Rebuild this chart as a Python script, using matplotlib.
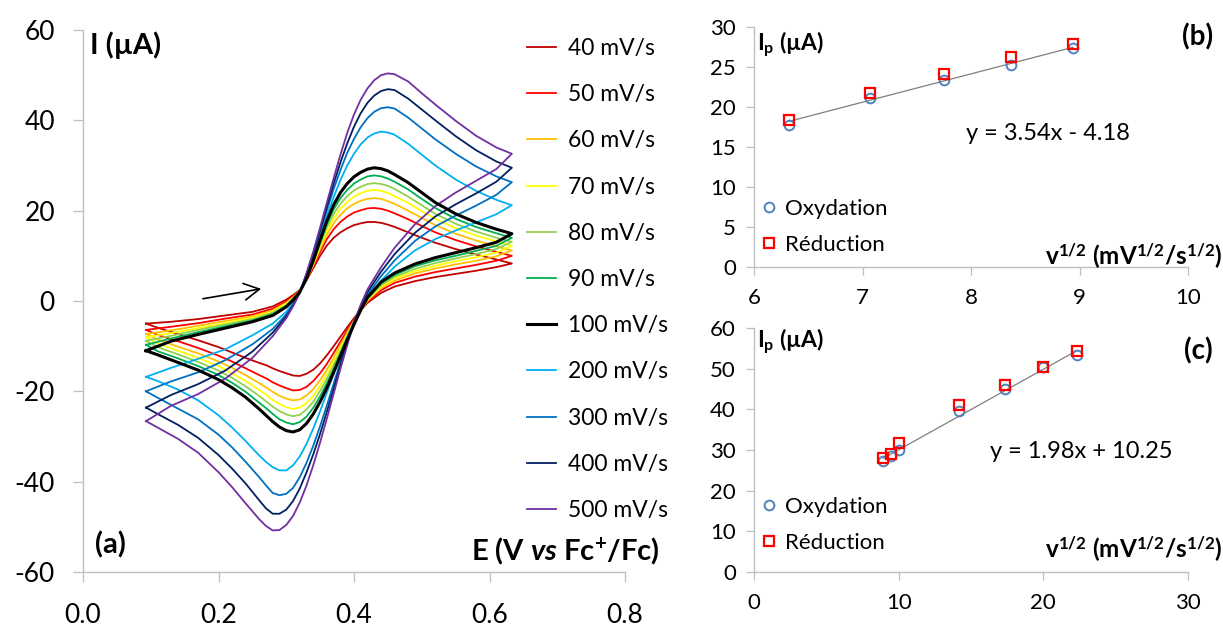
import matplotlib
matplotlib.use("Agg")
import matplotlib.pyplot as plt

plt.rcParams['font.family'] = ['Lato', 'DejaVu Sans']
plt.rcParams['mathtext.fontset'] = 'custom'
plt.rcParams['mathtext.rm'] = 'Lato'
plt.rcParams['mathtext.it'] = 'Lato:italic'
plt.rcParams['mathtext.bf'] = 'Lato:bold'
plt.rcParams['mathtext.bfit'] = 'Lato:bold:italic'
plt.rcParams['axes.unicode_minus'] = False

# ---- (a) cyclic voltammograms ----
rates = ['40', '50', '60', '70', '80', '90', '100', '200', '300', '400', '500']
colors = ['#C00000', '#FF0000', '#FFC000', '#FFFF00', '#92D050', '#00B050',
          '#000000', '#00B0F0', '#0070C0', '#002060', '#7030A0']

E_fwd = [0.093, 0.13, 0.17, 0.21, 0.25, 0.28, 0.30, 0.31, 0.32, 0.33, 0.34, 0.35,
         0.36, 0.37, 0.38, 0.39, 0.40, 0.41, 0.42, 0.43, 0.44, 0.45, 0.46, 0.48,
         0.50, 0.52, 0.55, 0.58, 0.61, 0.633]
E_rev = [0.633, 0.61, 0.58, 0.55, 0.52, 0.49, 0.46, 0.44, 0.42, 0.41, 0.40, 0.39,
         0.38, 0.37, 0.36, 0.35, 0.34, 0.33, 0.32, 0.31, 0.30, 0.29, 0.28, 0.27,
         0.26, 0.24, 0.22, 0.20, 0.17, 0.14, 0.11, 0.093]

fwd_40 = [-5.0, -4.6, -4.0, -3.2, -2.4, -1.2, 0.3, 1.3, 2.4, 4.6, 7.3, 10.0, 12.3, 14.0, 15.2,
          16.1, 16.8, 17.2, 17.5, 17.5, 17.3, 16.9, 16.4, 15.2, 14.0, 12.9, 11.5, 10.3, 9.2, 8.3]
fwd_50 = [-6.4, -5.7, -4.9, -3.9, -3.0, -1.7, -0.1, 1.0, 2.3, 4.7, 7.7, 10.9, 13.7, 15.9, 17.5,
          18.7, 19.6, 20.1, 20.5, 20.6, 20.4, 20.0, 19.4, 18.1, 16.6, 15.2, 13.5, 12.1, 10.9, 10.0]
fwd_60 = [-7.3, -6.5, -5.5, -4.4, -3.4, -2.1, -0.4, 0.8, 2.2, 4.8, 8.0, 11.5, 14.7, 17.2, 19.1,
          20.5, 21.5, 22.2, 22.6, 22.8, 22.6, 22.1, 21.5, 20.0, 18.4, 16.8, 14.9, 13.4, 12.1, 11.2]
fwd_70 = [-8.0, -7.1, -6.0, -4.9, -3.7, -2.4, -0.6, 0.6, 2.2, 4.8, 8.3, 12.1, 15.5, 18.3, 20.4,
          21.9, 23.1, 23.9, 24.4, 24.6, 24.4, 23.9, 23.2, 21.7, 19.9, 18.2, 16.1, 14.5, 13.2, 12.2]
fwd_80 = [-8.8, -7.7, -6.4, -5.2, -4.0, -2.6, -0.9, 0.5, 2.1, 4.9, 8.5, 12.5, 16.3, 19.3, 21.5,
          23.2, 24.5, 25.3, 25.9, 26.1, 25.9, 25.5, 24.8, 23.1, 21.2, 19.3, 17.1, 15.4, 14.0, 13.1]
fwd_90 = [-9.7, -8.3, -6.9, -5.6, -4.3, -2.9, -1.1, 0.4, 2.1, 4.9, 8.8, 13.0, 17.0, 20.3, 22.8,
          24.6, 26.0, 26.9, 27.6, 27.8, 27.6, 27.1, 26.4, 24.7, 22.6, 20.6, 18.2, 16.4, 15.0, 14.0]
fwd_100 = [-11.0, -8.9, -7.4, -6.0, -4.6, -3.2, -1.3, 0.2, 2.0, 5.0, 9.0, 13.5, 17.8, 21.3, 24.0,
           26.0, 27.5, 28.5, 29.2, 29.5, 29.3, 28.8, 28.0, 26.2, 24.0, 21.8, 19.3, 17.4, 15.9, 14.9]
fwd_200 = [-16.8, -14.8, -12.8, -10.7, -7.6, -5.0, -2.4, -0.5, 2.0, 5.6, 9.8, 14.3, 18.8, 23.0, 26.8,
           30.0, 32.6, 34.7, 36.2, 37.1, 37.5, 37.3, 36.8, 34.8, 32.4, 30.0, 26.9, 24.4, 22.4, 21.2]
fwd_300 = [-20.0, -17.8, -15.8, -13.1, -9.6, -6.2, -3.0, -0.8, 1.9, 5.9, 10.3, 15.2, 20.1, 24.8, 29.0,
           32.8, 35.9, 38.5, 40.5, 41.9, 42.7, 42.9, 42.6, 40.6, 38.2, 35.8, 32.6, 29.8, 27.6, 26.3]
fwd_400 = [-23.6, -20.8, -18.4, -15.4, -11.2, -7.0, -3.4, -1.0, 1.9, 6.0, 10.6, 15.7, 20.9, 26.0, 30.7,
           34.9, 38.6, 41.6, 43.9, 45.5, 46.5, 46.9, 46.7, 44.8, 42.4, 40.0, 36.5, 33.4, 30.9, 29.5]
fwd_500 = [-26.6, -23.2, -20.6, -17.2, -12.6, -7.8, -3.8, -1.2, 1.8, 6.2, 11.0, 16.3, 21.8, 27.2, 32.4,
           37.2, 41.3, 44.6, 47.1, 48.9, 50.0, 50.4, 50.2, 48.6, 46.0, 43.5, 39.9, 36.6, 34.0, 32.6]

rev_40 = [8.3, 7.5, 6.7, 6.0, 5.3, 4.4, 3.2, 1.8, -0.4, -2.0, -3.8, -5.8, -7.9, -10.0, -12.0, -13.8,
          -15.2, -16.1, -16.6, -16.5, -16.0, -15.5, -14.9, -14.2, -13.7, -12.6, -11.4, -10.2, -8.7, -7.3, -5.9, -5.0]
rev_50 = [10.0, 8.9, 8.0, 7.2, 6.4, 5.4, 4.0, 2.4, -0.1, -2.0, -4.2, -6.5, -9.0, -11.5, -13.9, -16.0,
          -17.7, -19.0, -19.7, -19.8, -19.3, -18.7, -18.0, -17.1, -16.4, -14.9, -13.4, -12.1, -10.4, -8.9, -7.5, -6.4]
rev_60 = [11.2, 9.9, 8.9, 8.1, 7.2, 6.1, 4.5, 2.9, 0.1, -2.0, -4.4, -7.0, -9.8, -12.6, -15.2, -17.5,
          -19.5, -20.9, -21.8, -22.0, -21.6, -21.0, -20.1, -19.1, -18.2, -16.4, -14.8, -13.4, -11.6, -10.1, -8.5, -7.3]
rev_70 = [12.2, 10.7, 9.7, 8.8, 7.8, 6.6, 5.0, 3.2, 0.3, -2.0, -4.6, -7.5, -10.4, -13.4, -16.2, -18.8,
          -21.0, -22.6, -23.6, -23.9, -23.5, -22.8, -21.9, -20.7, -19.7, -17.7, -16.0, -14.4, -12.6, -11.0, -9.4, -8.0]
rev_80 = [13.1, 11.5, 10.4, 9.4, 8.4, 7.1, 5.4, 3.5, 0.5, -2.0, -4.8, -7.8, -11.0, -14.2, -17.2, -19.9,
          -22.3, -24.0, -25.2, -25.5, -25.1, -24.4, -23.4, -22.2, -21.0, -18.9, -17.0, -15.4, -13.5, -11.8, -10.2, -8.8]
rev_90 = [14.0, 12.2, 11.1, 10.0, 9.0, 7.7, 5.8, 3.9, 0.6, -2.0, -5.0, -8.2, -11.6, -15.0, -18.2, -21.1,
          -23.6, -25.6, -26.8, -27.3, -26.9, -26.2, -25.0, -23.7, -22.5, -20.1, -18.1, -16.4, -14.4, -12.7, -11.1, -9.7]
rev_100 = [14.9, 13.0, 11.8, 10.7, 9.6, 8.2, 6.2, 4.2, 0.8, -2.0, -5.2, -8.6, -12.2, -15.8, -19.2, -22.3,
           -25.0, -27.1, -28.5, -29.0, -28.7, -27.9, -26.7, -25.3, -23.9, -21.3, -19.2, -17.4, -15.3, -13.6, -11.9, -11.0]
rev_200 = [21.2, 19.2, 17.4, 15.6, 13.7, 11.2, 7.6, 4.5, 0.6, -1.8, -4.6, -8.0, -11.9, -16.1, -20.3, -24.4,
           -28.2, -31.6, -34.4, -36.4, -37.5, -37.5, -36.8, -35.6, -34.2, -31.0, -28.0, -25.3, -22.0, -19.6, -17.7, -16.8]
rev_300 = [26.3, 23.5, 21.1, 18.9, 16.5, 13.3, 9.0, 5.5, 1.4, -1.4, -4.8, -8.9, -13.5, -18.3, -23.1, -27.7,
           -32.0, -35.8, -39.0, -41.4, -42.7, -43.0, -42.5, -40.8, -39.0, -35.6, -32.4, -29.6, -26.2, -23.8, -21.4, -20.0]
rev_400 = [29.5, 26.4, 23.8, 21.4, 18.7, 15.1, 10.4, 6.5, 2.0, -1.0, -4.7, -9.2, -14.2, -19.4, -24.5, -29.4,
           -33.9, -37.9, -41.5, -44.3, -46.2, -47.1, -47.1, -45.9, -44.1, -40.4, -37.1, -34.1, -30.3, -27.4, -25.0, -23.6]
rev_500 = [32.6, 29.2, 26.6, 24.0, 21.0, 17.0, 11.8, 7.5, 2.6, -0.8, -4.8, -9.8, -15.0, -20.5, -26.0, -31.3,
           -36.3, -40.8, -44.6, -47.6, -49.6, -50.7, -50.8, -49.8, -48.3, -44.8, -41.2, -37.9, -33.6, -30.5, -28.0, -26.6]

fwd = [fwd_40, fwd_50, fwd_60, fwd_70, fwd_80, fwd_90, fwd_100, fwd_200, fwd_300, fwd_400, fwd_500]
rev = [rev_40, rev_50, rev_60, rev_70, rev_80, rev_90, rev_100, rev_200, rev_300, rev_400, rev_500]

# ---- (b) and (c) peak currents vs sqrt(scan rate) ----
sqrt_v_b = [6.32, 7.07, 7.75, 8.37, 8.94]
ox_b = [17.8, 21.1, 23.4, 25.2, 27.4]
red_b = [18.4, 21.7, 24.1, 26.3, 27.9]
fit_b = (3.54, -4.18)

sqrt_v_c = [8.94, 9.49, 10.0, 14.14, 17.32, 20.0, 22.36]
ox_c = [27.4, 28.5, 29.9, 39.6, 45.1, 50.3, 53.3]
red_c = [28.0, 28.9, 31.7, 41.1, 45.9, 50.5, 54.3]
fit_c = (1.98, 10.25)

W, H = 1223, 627
fig = plt.figure(figsize=(W / 100, H / 100), dpi=100)

GREY = '#BFBFBF'


def style(ax, size, ticklen):
    for s in ['top', 'right']:
        ax.spines[s].set_visible(False)
    for s in ['left', 'bottom']:
        ax.spines[s].set_color(GREY)
        ax.spines[s].set_linewidth(1.0)
    ax.tick_params(direction='out', length=ticklen, width=0.9, color=GREY, labelsize=size)
    ax.patch.set_alpha(0)


# panel (a)
ax = fig.add_axes([83 / W, 55 / H, 542 / W, 542 / H])
style(ax, 19, 7.2)
ax.tick_params(axis='x', pad=15)
ax.tick_params(axis='y', pad=13)
for r, c, f, b in zip(rates, colors, fwd, rev):
    lw = 2.2 if r == '100' else 1.3
    ax.plot(E_fwd + E_rev, f + b, color=c, lw=lw, label=r + ' mV/s',
            zorder=3 if r == '100' else 2, solid_joinstyle='round')
ax.set_xlim(0, 0.8)
ax.set_ylim(-60, 60)
ax.set_xticks([0.0, 0.2, 0.4, 0.6, 0.8])
ax.set_xticklabels(['0.0', '0.2', '0.4', '0.6', '0.8'])
ax.set_yticks([-60, -40, -20, 0, 20, 40, 60])
ax.annotate('', xy=(0.267, 2.8), xytext=(0.173, 0.4),
            arrowprops=dict(arrowstyle='->,head_length=0.55,head_width=0.3',
                            color='black', lw=1.2, mutation_scale=20))
ax.legend(loc='upper left', bbox_to_anchor=(527 / W, 1 - 38 / H), bbox_transform=fig.transFigure,
          frameon=False, borderpad=0, borderaxespad=0, handlelength=1.25, handletextpad=0.55,
          labelspacing=1.1, fontsize=16.5)

fig.text(90 / W, 1 - 45 / H, 'I (µA)', fontsize=21, fontweight='bold', va='center')
fig.text(95 / W, 1 - 545 / H, '(a)', fontsize=21, fontweight='bold', va='center')
fig.text(660 / W, 1 - 552 / H, r'E (V $\mathbfit{vs}$ Fc$^{\mathbf{+}}$/Fc)', fontsize=21,
         fontweight='bold', ha='right', va='center')


def side_panel(rect, x, ox, red, fit, xlim, xticks, ylim, yticks, tag, tag_y, eq, eq_xy, leg_top,
               lab_y, ip_y):
    a = fig.add_axes(rect)
    style(a, 16, 6)
    a.tick_params(axis='x', pad=9)
    a.tick_params(axis='y', pad=7)
    xs = [min(x), max(x)]
    a.plot(xs, [fit[0] * v + fit[1] for v in xs], color='#7F7F7F', lw=0.9, zorder=1)
    a.plot(x, ox, 'o', ms=7, mfc='none', mec='#4F81BD', mew=1.4, label='Oxydation', zorder=2)
    a.plot(x, red, 's', ms=7, mfc='none', mec='#FF0000', mew=1.6, label='Réduction', zorder=3)
    a.set_xlim(*xlim)
    a.set_ylim(*ylim)
    a.set_xticks(xticks)
    a.set_yticks(yticks)
    a.legend(loc='upper left', bbox_to_anchor=(762 / W, 1 - leg_top / H), bbox_transform=fig.transFigure,
             frameon=False, borderpad=0, borderaxespad=0, handlelength=0.6, handletextpad=0.45,
             labelspacing=0.72, fontsize=16)
    fig.text(757 / W, 1 - ip_y / H, r'I$_{\mathbf{p}}$ (µA)', fontsize=16.5, fontweight='bold', va='center')
    fig.text(1213 / W, 1 - tag_y / H, tag, fontsize=20, fontweight='bold', ha='right', va='center')
    fig.text(eq_xy[0] / W, 1 - eq_xy[1] / H, eq, fontsize=17, va='center')
    fig.text(1222 / W, 1 - lab_y / H,
             r'v$^{\mathbf{1/2}}$ (mV$^{\mathbf{1/2}}$/s$^{\mathbf{1/2}}$)',
             fontsize=17.5, fontweight='bold', ha='right', va='center')
    return a


side_panel([754 / W, 360 / H, 434 / W, 240 / H], sqrt_v_b, ox_b, red_b, fit_b,
           (6, 10), [6, 7, 8, 9, 10], (0, 30), [0, 5, 10, 15, 20, 25, 30],
           '(b)', 37, 'y = 3.54x - 4.18', (966, 133), 199, 256, 44)
side_panel([754 / W, 55 / H, 434 / W, 244 / H], sqrt_v_c, ox_c, red_c, fit_c,
           (0, 30), [0, 10, 20, 30], (0, 60), [0, 10, 20, 30, 40, 50, 60],
           '(c)', 351, 'y = 1.98x + 10.25', (990, 451), 497, 549, 341)

fig.savefig('out.png', dpi=100)
